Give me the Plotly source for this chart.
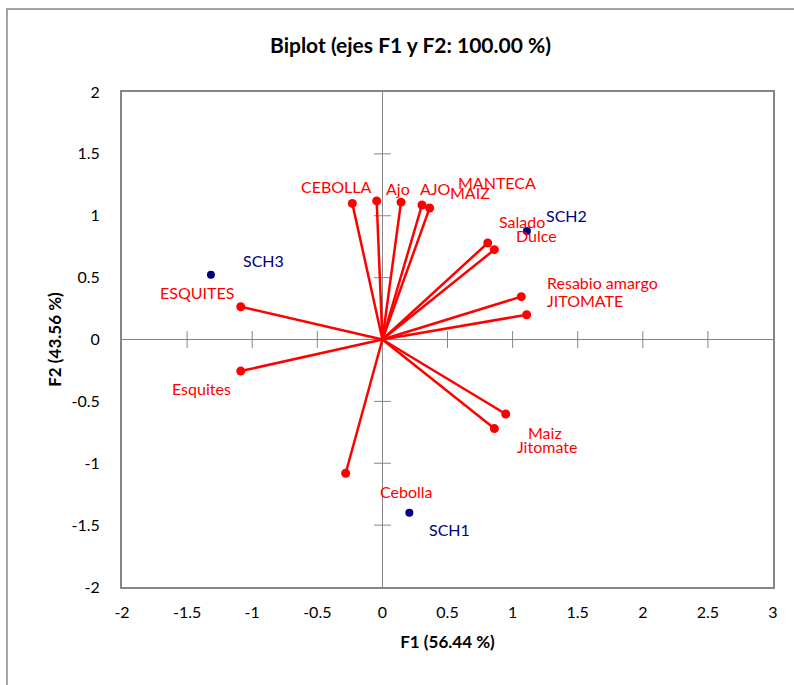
import plotly.graph_objects as go

# ---- data ----
var_names = ["CEBOLLA", "Ajo", "AJO", "MANTECA", "MAIZ", "Salado", "Dulce",
             "Resabio amargo", "JITOMATE", "Maiz", "Jitomate", "Cebolla",
             "Esquites", "ESQUITES"]
var_f1 = [-0.231, -0.044, 0.143, 0.304, 0.363, 0.809, 0.860,
          1.067, 1.108, 0.947, 0.860, -0.282, -1.088, -1.088]
var_f2 = [1.100, 1.120, 1.110, 1.087, 1.063, 0.780, 0.726,
          0.346, 0.200, -0.602, -0.720, -1.081, -0.255, 0.265]

obs_names = ["SCH1", "SCH2", "SCH3"]
obs_f1 = [0.207, 1.110, -1.317]
obs_f2 = [-1.400, 0.877, 0.524]

x_ticks = [-2, -1.5, -1, -0.5, 0, 0.5, 1, 1.5, 2, 2.5, 3]
y_ticks = [-2, -1.5, -1, -0.5, 0, 0.5, 1, 1.5, 2]

# ---- label offsets (pixels) ----
var_shift = [(-16, 17), (21, 12), (34, 14), (75, 22), (40, 15), (34, 21), (42, 14),
             (81, 14), (58, 14), (39, -18), (53, -18), (61, -18), (-39, -17), (-44, 14)]
obs_shift = [(40, -17), (40, 15), (53, 14)]

RED = "#FF0000"
NAVY = "#000080"
GRAY = "#868686"
FONT = "Lato"

fig = go.Figure()

# tick marks on the zero lines
fig.add_trace(go.Scatter(x=[t for t in x_ticks if t not in (-2, 3)],
                         y=[0] * (len(x_ticks) - 2), mode="markers",
                         marker=dict(symbol="line-ns", size=12, line=dict(color=GRAY, width=1)),
                         hoverinfo="skip", showlegend=False))
fig.add_trace(go.Scatter(x=[0] * (len(y_ticks) - 2),
                         y=[t for t in y_ticks if t not in (-2, 2)], mode="markers",
                         marker=dict(symbol="line-ew", size=12, line=dict(color=GRAY, width=1)),
                         hoverinfo="skip", showlegend=False))

# vectors
lx, ly = [], []
for a, b in zip(var_f1, var_f2):
    lx += [0, a, None]
    ly += [0, b, None]
fig.add_trace(go.Scatter(x=lx, y=ly, mode="lines", line=dict(color=RED, width=2.5),
                         hoverinfo="skip", showlegend=False))
fig.add_trace(go.Scatter(x=var_f1, y=var_f2, mode="markers", text=var_names,
                         marker=dict(color=RED, size=9), showlegend=False))
fig.add_trace(go.Scatter(x=obs_f1, y=obs_f2, mode="markers", text=obs_names,
                         marker=dict(color=NAVY, size=8), showlegend=False))

for n, a, b, (dx, dy) in zip(var_names, var_f1, var_f2, var_shift):
    fig.add_annotation(x=a, y=b, text=n, showarrow=False, xshift=dx, yshift=dy,
                       font=dict(family=FONT, size=16, color=RED))
for n, a, b, (dx, dy) in zip(obs_names, obs_f1, obs_f2, obs_shift):
    fig.add_annotation(x=a, y=b, text=n, showarrow=False, xshift=dx, yshift=dy,
                       font=dict(family=FONT, size=16, color=NAVY))

# outer chart border
fig.add_shape(type="path", xref="paper", yref="paper",
              path="M -0.1767 -0.21 L -0.1767 1.1677 L 1.1 1.1677",
              line=dict(color=GRAY, width=1.5))

axis_common = dict(showgrid=False, zeroline=True, zerolinecolor=GRAY, zerolinewidth=1,
                   showline=True, linecolor=GRAY, linewidth=2, mirror=True,
                   ticks="", tickfont=dict(family=FONT, size=16, color="#000000"))
fig.update_xaxes(range=[-2, 3], tickvals=x_ticks, ticktext=[f"{t:g}" for t in x_ticks],
                 ticklabelstandoff=10,
                 title=dict(text="<b>F1 (56.44 %)</b>", standoff=16,
                            font=dict(family=FONT, size=17, color="#000")),
                 **axis_common)
fig.update_yaxes(range=[-2, 2], tickvals=y_ticks, ticktext=[f"{t:g}" for t in y_ticks],
                 ticklabelstandoff=17,
                 title=dict(text="<b>F2 (43.56 %)</b>", standoff=6,
                            font=dict(family=FONT, size=17, color="#000")),
                 **axis_common)

fig.update_layout(
    width=794, height=685,
    margin=dict(l=122, r=21, t=92, b=98),
    plot_bgcolor="white", paper_bgcolor="white",
    title=dict(text="<b>Biplot (ejes F1 y F2: 100.00 %)</b>", x=0.517, xanchor="center",
               y=0.934, yanchor="middle", font=dict(family=FONT, size=21, color="#000")),
    hovermode="closest",
)

fig.write_html("out.html")
